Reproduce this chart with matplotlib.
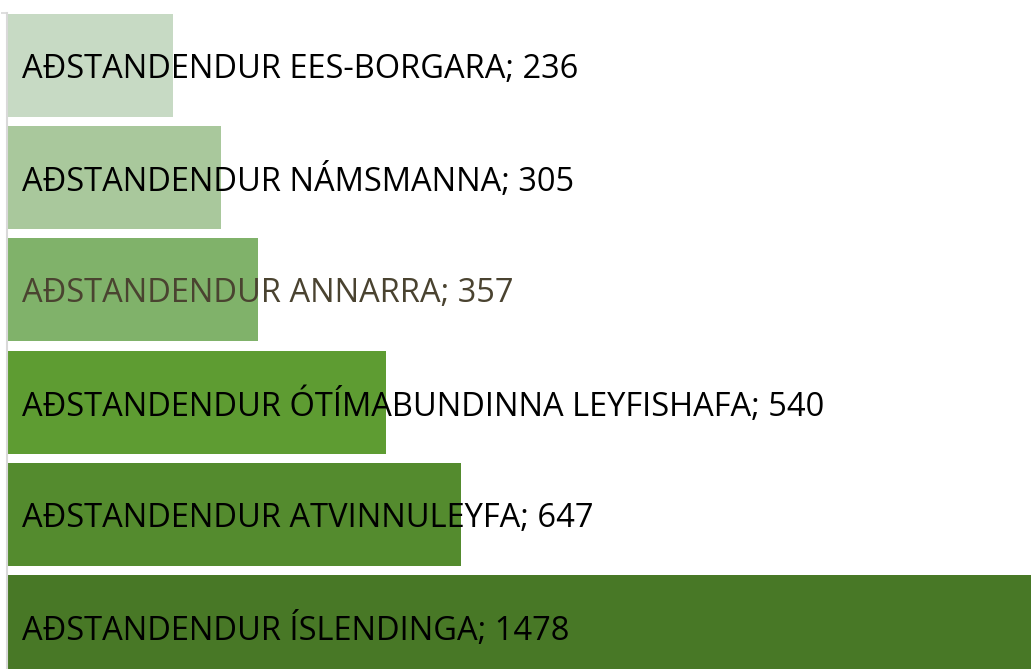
import matplotlib
matplotlib.use("Agg")
import matplotlib.pyplot as plt
from matplotlib.transforms import offset_copy

# data (top to bottom)
categories = [
    "AÐSTANDENDUR EES-BORGARA",
    "AÐSTANDENDUR NÁMSMANNA",
    "AÐSTANDENDUR ANNARRA",
    "AÐSTANDENDUR ÓTÍMABUNDINNA LEYFISHAFA",
    "AÐSTANDENDUR ATVINNULEYFA",
    "AÐSTANDENDUR ÍSLENDINGA",
]
values = [236, 305, 357, 540, 647, 1478]
bar_colors = ["#c7dac4", "#a9c89c", "#80b26a", "#5e9c32", "#548b2e", "#487826"]
label_colors = ["black", "black", "#4a4330", "black", "black", "black"]

plt.rcParams['font.family'] = ['Open Sans', 'DejaVu Sans']

fig = plt.figure(figsize=(10.31, 6.69), dpi=100)
ax = fig.add_axes([7 / 1031, 0, 1 - 7 / 1031, 1 - 13 / 669])

pos = list(range(len(values)))
ax.barh(pos, values, height=0.918, color=bar_colors, zorder=2)

ax.set_xlim(0, 1459)
ax.set_ylim(5.379, -0.468)

for spine in ["top", "right", "bottom"]:
    ax.spines[spine].set_visible(False)
ax.spines["left"].set_color("#d9d9d9")
ax.spines["left"].set_linewidth(1.5)
ax.spines["left"].set_zorder(3)

ax.set_xticks([])
ax.set_yticks([-0.468])
ax.tick_params(axis="y", length=4.5, width=1.2, color="#d9d9d9", labelleft=False)

trans = offset_copy(ax.transData, fig=fig, x=11, y=0, units="points")
for p, cat, v, c in zip(pos, categories, values, label_colors):
    ax.text(0, p, f"{cat}; {v}", transform=trans, ha="left", va="center_baseline",
            fontsize=23.5, color=c, zorder=4)

fig.savefig("out.png", dpi=100)
